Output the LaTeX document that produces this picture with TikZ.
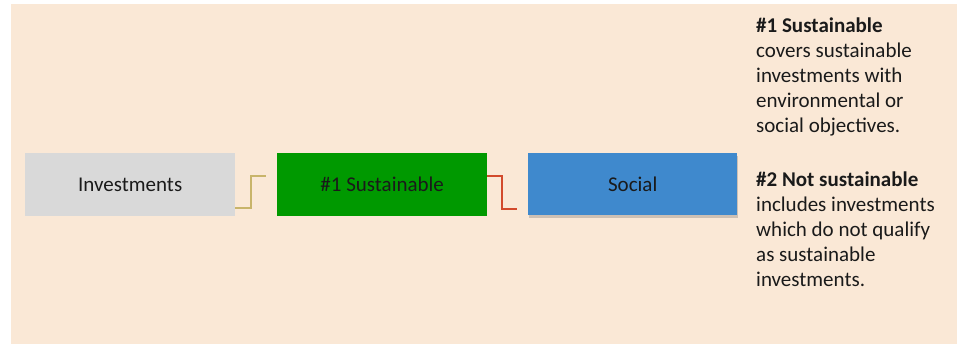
\documentclass[tikz,border=0pt]{standalone}
\usepackage{fontspec}
\setmainfont{Carlito}
\usetikzlibrary{shadows}
\definecolor{bg}{HTML}{FAE8D6}
\definecolor{greybox}{HTML}{D9D9D9}
\definecolor{greenbox}{HTML}{009900}
\definecolor{bluebox}{HTML}{3F89CD}
\definecolor{goldline}{HTML}{C8B46A}
\definecolor{redline}{HTML}{D24A2C}
\definecolor{txt}{HTML}{1A1A1A}
\begin{document}
\begin{tikzpicture}[x=1pt,y=-1pt,
  box/.style={minimum width=210pt,minimum height=63pt,inner sep=0pt,anchor=north west,
    font=\fontsize{21}{24}\selectfont,text=txt},
  conn/.style={line width=1.3pt}]
\useasboundingbox (0,0) rectangle (957,344);
\fill[bg] (11,4) rectangle (957,344);
\node[box,fill=greybox] (inv) at (25,153) {Investments};
\node[box,fill=greenbox] (sus) at (277,153) {\#1 Sustainable};
\node[box,fill=bluebox,minimum width=209pt,minimum height=62pt,
  drop shadow={shadow xshift=1pt,shadow yshift=-3pt,opacity=0.3,fill=black!60}] (soc) at (528,153) {Social};
\coordinate (g1) at (251,208);
\coordinate (g2) at (266,176);
\coordinate (r1) at (502,176);
\coordinate (r2) at (517,209);
\draw[conn,goldline] (inv.east |- g1) -- (g1) |- (g2);
\draw[conn,redline] (sus.east |- r1) -- (r1) |- (r2);
\node[anchor=north west,inner sep=0pt,align=left,text=txt,
  font=\fontsize{21}{25}\selectfont] (desc) at (756,18) {%
  \textbf{\#1 Sustainable}\\
  covers sustainable\\
  investments with\\
  environmental or\\
  social objectives.\\[29pt]
  \textbf{\#2 Not sustainable}\\
  includes investments\\
  which do not qualify\\
  as sustainable\\
  investments.};
\end{tikzpicture}
\end{document}
